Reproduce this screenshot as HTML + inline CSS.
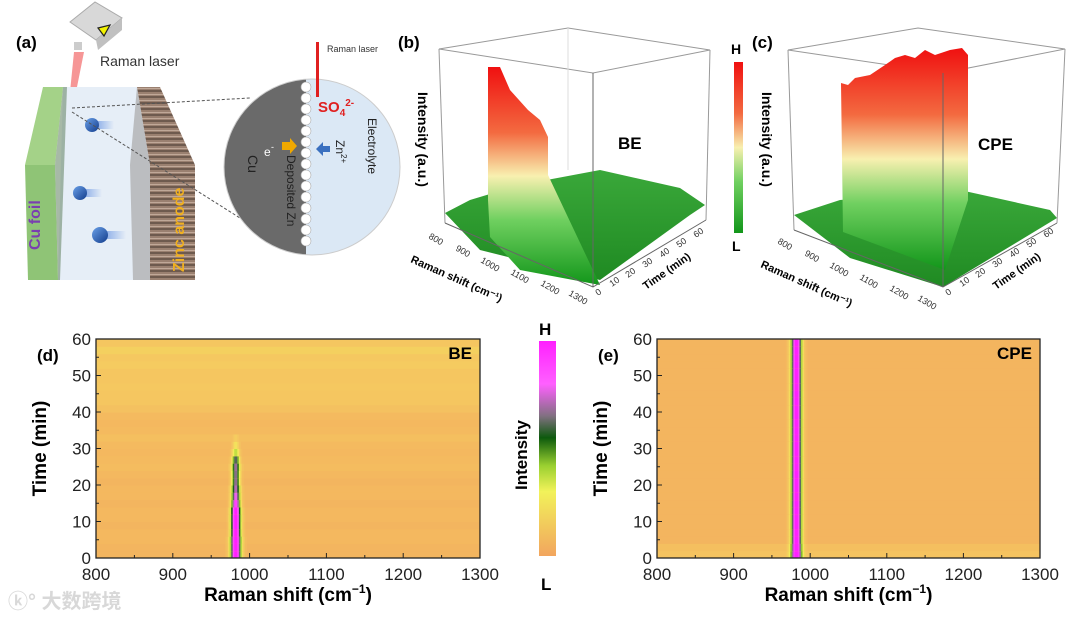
<!DOCTYPE html>
<html><head><meta charset="utf-8"><style>
html,body{margin:0;padding:0;background:#fff;}
svg{display:block;font-family:"Liberation Sans","Noto Sans CJK SC",sans-serif;}
</style></head><body>
<svg id="fig" width="1080" height="619" viewBox="0 0 1080 619">
<defs>
<linearGradient id="redgreen" x1="0" y1="0" x2="0" y2="1">
<stop offset="0" stop-color="#f01010"/><stop offset="0.3" stop-color="#f36a40"/><stop offset="0.5" stop-color="#f8f0b0"/><stop offset="0.7" stop-color="#70d060"/><stop offset="1" stop-color="#12961a"/></linearGradient>
<linearGradient id="floorg" x1="0" y1="0" x2="0" y2="1"><stop offset="0" stop-color="#3aa83a"/><stop offset="1" stop-color="#1f8a22"/></linearGradient>
<linearGradient id="hmbar" x1="0" y1="1" x2="0" y2="0">
<stop offset="0" stop-color="#f2a55e"/><stop offset="0.3" stop-color="#f2f25a"/><stop offset="0.42" stop-color="#9ad030"/><stop offset="0.55" stop-color="#0d5a0d"/><stop offset="0.65" stop-color="#807080"/><stop offset="0.8" stop-color="#ff60ff"/><stop offset="1" stop-color="#ff20ff"/></linearGradient>
<pattern id="zinc" width="4" height="6" patternUnits="userSpaceOnUse"><rect width="4" height="6" fill="#9a8070"/><rect y="0" width="4" height="2" fill="#6e5a4e"/><rect y="4" width="4" height="1" fill="#c0a898"/></pattern>
<linearGradient id="ball" x1="0" y1="0" x2="1" y2="1"><stop offset="0" stop-color="#6aa0e8"/><stop offset="1" stop-color="#123c8c"/></linearGradient>
<linearGradient id="tail" x1="0" y1="0" x2="1" y2="0"><stop offset="0" stop-color="#5a8ae0" stop-opacity="0.8"/><stop offset="1" stop-color="#5a8ae0" stop-opacity="0"/></linearGradient>
</defs>

<g>
<text x="16" y="48" font-size="17" font-weight="bold">(a)</text>
<g>
<polygon points="70,22 95,2 122,18 96,40" fill="#d8d8d8" stroke="#aaa"/>
<polygon points="96,40 122,18 122,30 98,50" fill="#c0c0c0"/>
<polygon points="98,28 110,25 104,36" fill="#f2f200" stroke="#222" stroke-width="1.2"/>
<rect x="74" y="42" width="8" height="8" fill="#ccc"/>
<polygon points="74,52 84,52 76,92 70,92" fill="#f05050" opacity="0.6"/>
</g>
<text x="100" y="66" font-size="14" fill="#333">Raman laser</text>
<polygon points="63,87 150,87 150,280 58,280" fill="#e6eef7"/>
<polygon points="43,87 63,87 55,165 25,165" fill="#a4d288"/>
<polygon points="25,165 55,165 58,280 28,280" fill="#8fc476"/>
<polygon points="55,165 63,87 67,87 60,280 58,280" fill="#6c8a6c" opacity="0.6"/>
<polygon points="137,87 160,87 195,165 195,280 150,280 150,165" fill="url(#zinc)"/>
<polygon points="137,87 150,165 150,280 133,280 130,165" fill="#a8a8a8" opacity="0.7"/>
<g>
<rect x="92" y="121" width="22" height="8" fill="url(#tail)"/><circle cx="92" cy="125" r="7" fill="url(#ball)"/>
<rect x="80" y="189" width="22" height="8" fill="url(#tail)"/><circle cx="80" cy="193" r="7" fill="url(#ball)"/>
<rect x="100" y="231" width="26" height="8" fill="url(#tail)"/><circle cx="100" cy="235" r="8" fill="url(#ball)"/>
</g>
<line x1="72" y1="108" x2="250" y2="98" stroke="#555" stroke-dasharray="3,2"/>
<line x1="72" y1="112" x2="240" y2="218" stroke="#555" stroke-dasharray="3,2"/>
<text transform="translate(40,250) rotate(-90)" font-size="16" font-weight="bold" fill="#7a3fb0">Cu foil</text>
<text transform="translate(184,272) rotate(-90)" font-size="16" font-weight="bold" fill="#f0b020">Zinc anode</text>
<g>
<clipPath id="cc"><circle cx="312" cy="167" r="88"/></clipPath>
<g clip-path="url(#cc)">
<rect x="224" y="79" width="88" height="176" fill="#6a6a6a"/>
<rect x="306" y="79" width="96" height="176" fill="#dbe8f5"/>
</g>
<circle cx="312" cy="167" r="88" fill="none" stroke="#ccc"/>
<g fill="#fff" stroke="#aaa" stroke-width="0.6">
<circle cx="306" cy="87" r="5"/><circle cx="306" cy="98" r="5"/><circle cx="306" cy="109" r="5"/><circle cx="306" cy="120" r="5"/><circle cx="306" cy="131" r="5"/><circle cx="306" cy="142" r="5"/><circle cx="306" cy="153" r="5"/><circle cx="306" cy="164" r="5"/><circle cx="306" cy="175" r="5"/><circle cx="306" cy="186" r="5"/><circle cx="306" cy="197" r="5"/><circle cx="306" cy="208" r="5"/><circle cx="306" cy="219" r="5"/><circle cx="306" cy="230" r="5"/><circle cx="306" cy="241" r="5"/></g>
<rect x="316" y="42" width="3" height="55" fill="#e02020"/>
<text x="327" y="52" font-size="9" fill="#333">Raman laser</text>
<text x="318" y="112" font-size="15" fill="#e02020" font-weight="bold">SO<tspan font-size="10" dy="4">4</tspan><tspan font-size="10" dy="-10">2-</tspan></text>
<polygon points="282,142 290,142 290,138 297,146 290,154 290,150 282,150" fill="#f0a800"/>
<polygon points="330,146 323,146 323,142 316,149 323,156 323,152 330,152" fill="#3a70c0"/>
<text x="264" y="156" font-size="12" fill="#fff">e</text><text x="271" y="150" font-size="9" fill="#fff">-</text>
<text transform="translate(248,155) rotate(90)" font-size="14" fill="#222">Cu</text>
<text transform="translate(287,155) rotate(90)" font-size="12" fill="#222">Deposited Zn</text>
<text transform="translate(336,140) rotate(90)" font-size="12" fill="#222">Zn<tspan font-size="8" dy="-5">2+</tspan></text>
<text transform="translate(368,118) rotate(90)" font-size="12" fill="#222">Electrolyte</text>
</g>
</g>

<g>
<text x="398" y="48" font-size="17" font-weight="bold">(b)</text>
<polygon points="439,49 568,28 710,50 593,73" fill="none" stroke="#999"/>
<line x1="439" y1="49" x2="445" y2="223" stroke="#999"/><line x1="568" y1="28" x2="568" y2="170" stroke="#ddd"/><line x1="710" y1="50" x2="706" y2="220" stroke="#999"/>
<polygon points="445,213 470,200 520,185 600,170 680,188 705,205 690,215 600,280 480,250" fill="url(#floorg)"/>
<polygon points="488,67 500,67 510,90 528,110 540,120 548,137 548,175 600,285 520,270 490,237 488,200" fill="url(#redgreen)"/>
<line x1="593" y1="73" x2="593" y2="287" stroke="#666"/>
<polyline points="445,223 593,287 706,220" fill="none" stroke="#666"/>
<text transform="translate(418,92) rotate(90)" font-size="14" font-weight="bold">Intensity (a.u.)</text>
<text x="618" y="149" font-size="17" font-weight="bold">BE</text>
<g font-size="9" fill="#333">
<text transform="translate(428,238) rotate(30)">800</text><text transform="translate(455,250) rotate(30)">900</text><text transform="translate(480,262) rotate(30)">1000</text><text transform="translate(510,274) rotate(30)">1100</text><text transform="translate(540,285) rotate(30)">1200</text><text transform="translate(568,295) rotate(30)">1300</text>
<text transform="translate(598,296) rotate(-35)">0</text><text transform="translate(612,287) rotate(-35)">10</text><text transform="translate(628,278) rotate(-35)">20</text><text transform="translate(645,268) rotate(-35)">30</text><text transform="translate(662,258) rotate(-35)">40</text><text transform="translate(679,248) rotate(-35)">50</text><text transform="translate(696,238) rotate(-35)">60</text>
</g>
<text transform="translate(410,262) rotate(24)" font-size="11" font-weight="bold">Raman shift (cm⁻¹)</text>
<text transform="translate(646,290) rotate(-35)" font-size="11" font-weight="bold">Time (min)</text>
</g>
<g>
<rect x="734" y="62" width="9" height="171" fill="url(#redgreen)"/>
<text x="731" y="54" font-size="14" font-weight="bold">H</text>
<text x="732" y="251" font-size="14" font-weight="bold">L</text>
</g>
<g>
<text x="752" y="48" font-size="17" font-weight="bold">(c)</text>
<polygon points="788,50 918,28 1065,49 943,73" fill="none" stroke="#999"/>
<line x1="788" y1="50" x2="794" y2="230" stroke="#999"/><line x1="1065" y1="49" x2="1057" y2="223" stroke="#999"/>
<polygon points="794,215 840,200 960,190 1050,210 1057,218 943,287 850,258" fill="url(#floorg)"/>
<polygon points="841,83 848,85 855,78 870,75 885,65 895,58 905,55 915,58 925,50 935,55 950,50 962,48 968,55 968,200 945,270 843,232" fill="url(#redgreen)"/>
<line x1="943" y1="73" x2="943" y2="287" stroke="#666"/>
<polyline points="794,230 943,287 1057,223" fill="none" stroke="#666"/>
<text transform="translate(762,92) rotate(90)" font-size="14" font-weight="bold">Intensity (a.u.)</text>
<text x="978" y="150" font-size="17" font-weight="bold">CPE</text>
<g font-size="9" fill="#333">
<text transform="translate(777,243) rotate(30)">800</text><text transform="translate(804,255) rotate(30)">900</text><text transform="translate(829,267) rotate(30)">1000</text><text transform="translate(859,279) rotate(30)">1100</text><text transform="translate(889,290) rotate(30)">1200</text><text transform="translate(917,300) rotate(30)">1300</text>
<text transform="translate(948,296) rotate(-35)">0</text><text transform="translate(962,287) rotate(-35)">10</text><text transform="translate(978,278) rotate(-35)">20</text><text transform="translate(995,268) rotate(-35)">30</text><text transform="translate(1012,258) rotate(-35)">40</text><text transform="translate(1029,248) rotate(-35)">50</text><text transform="translate(1046,238) rotate(-35)">60</text>
</g>
<text transform="translate(760,267) rotate(24)" font-size="11" font-weight="bold">Raman shift (cm⁻¹)</text>
<text transform="translate(996,290) rotate(-35)" font-size="11" font-weight="bold">Time (min)</text>
</g>

<g>
<rect x="539" y="341" width="17" height="215" fill="url(#hmbar)"/>
<text x="539" y="335" font-size="17" font-weight="bold">H</text>
<text x="541" y="590" font-size="17" font-weight="bold">L</text>
<text transform="translate(527,490) rotate(-90)" font-size="17" font-weight="bold">Intensity</text>
</g>
<text x="8" y="608" font-size="20" fill="#d8d8d8" font-weight="bold">ⓚ° 大数跨境</text>
<g id="hmD"></g>
<g id="hmE"></g>
</svg>
<script>
const times = [0,2,4,6,8,10,12,14,16,18,20,22,24,26,28,30,32,34,36,38,40,42,44,46,48,50,52,54,56,58];
const shiftStart = 800, shiftEnd = 1300, shiftStep = 2;
const peakCenter = 982;
const beAmp  = [1,1,1,1,1,1,0.95,0.85,0.72,0.65,0.62,0.6,0.6,0.55,0.3,0.16,0.06,0,0,0,0,0,0,0,0,0,0,0,0,0];
const beWidth= [6.5,6.5,6.5,6,6,6,6,5.5,5.5,5.5,5,5,5,4.5,4.5,4,3.5,3,3,3,3,3,3,3,3,3,3,3,3,3];
const beBg   = [0.07,0.07,0.08,0.08,0.07,0.08,0.08,0.07,0.08,0.08,0.07,0.08,0.1,0.09,0.08,0.09,0.11,0.09,0.08,0.09,0.12,0.14,0.14,0.15,0.14,0.14,0.16,0.15,0.18,0.14];
const cpeAmp = [1,1,1,1,1,1,1,1,1,1,1,1,1,1,1,1,1,1,1,1,1,1,1,1,1,1,1,1,1,1];
const cpeBg  = [0.13,0.11,0.07,0.07,0.07,0.07,0.07,0.07,0.07,0.07,0.07,0.07,0.07,0.07,0.07,0.07,0.07,0.07,0.07,0.07,0.07,0.07,0.07,0.07,0.07,0.07,0.07,0.07,0.07,0.07];
const xTicks = [800,900,1000,1100,1200,1300];
const yTicks = [0,10,20,30,40,50,60];
const NS='http://www.w3.org/2000/svg';
const stops=[[0,[242,165,94]],[0.15,[245,200,96]],[0.3,[242,242,90]],[0.42,[154,208,48]],[0.55,[13,90,13]],[0.65,[128,112,128]],[0.8,[255,96,255]],[1,[255,32,255]]];
function cmap(v){v=Math.max(0,Math.min(1,v));for(let i=1;i<stops.length;i++){if(v<=stops[i][0]){const a=stops[i-1],b=stops[i],t=(v-a[0])/(b[0]-a[0]);return 'rgb('+a[1].map((c,k)=>Math.round(c+(b[1][k]-c)*t)).join(',')+')';}}return 'rgb(255,32,255)';}
function mk(tag,at,parent){const e=document.createElementNS(NS,tag);for(const k in at)e.setAttribute(k,at[k]);parent.appendChild(e);return e;}
function panel(g,x0,x1,y0,y1,amp,wid,bg,label,tag,constW){
  const sx=v=>x0+(v-shiftStart)/(shiftEnd-shiftStart)*(x1-x0);
  const sy=t=>y1-(t/60)*(y1-y0);
  times.forEach((t,i)=>{
    const row=mk('rect',{x:x0,y:sy(t+2).toFixed(2),width:x1-x0,height:(sy(t)-sy(t+2)+0.5).toFixed(2),fill:cmap(bg[i])},g);
    
    
    for(let s=shiftStart;s<shiftEnd;s+=shiftStep){
      const d=s+shiftStep/2-peakCenter;const w=constW?constW:wid[i];
      const p=amp[i]*Math.exp(-(d*d)/(w*w));
      if(p<0.01)continue;
      const r=mk('rect',{x:sx(s).toFixed(2),y:sy(t+2).toFixed(2),width:(sx(s+shiftStep)-sx(s)+0.4).toFixed(2),height:(sy(t)-sy(t+2)+0.5).toFixed(2),fill:cmap(bg[i]+p)},g);
      
      
    }
  });
  const f=mk('rect',{x:x0,y:y0,width:x1-x0,height:y1-y0,fill:'none',stroke:'#222','stroke-width':1.3},g);
  
  
  xTicks.forEach(v=>{mk('line',{x1:sx(v),x2:sx(v),y1:y1,y2:y1-5,stroke:'#222'},g);
    const tx=mk('text',{x:sx(v),y:y1+22,'font-size':17,'text-anchor':'middle',fill:'#222'},g);tx.textContent=v;
    
    
    if(v<1300)mk('line',{x1:sx(v+50),x2:sx(v+50),y1:y1,y2:y1-3,stroke:'#222'},g);});
  yTicks.forEach(v=>{mk('line',{x1:x0,x2:x0+5,y1:sy(v),y2:sy(v),stroke:'#222'},g);
    const ty=mk('text',{x:x0-5,y:sy(v)+6,'font-size':17,'text-anchor':'end',fill:'#222'},g);ty.textContent=v;
    
    
    if(v<60)mk('line',{x1:x0,x2:x0+3,y1:sy(v+5),y2:sy(v+5),stroke:'#222'},g);});
  const xt=mk('text',{x:(x0+x1)/2,y:y1+43,'font-size':19,'font-weight':'bold','text-anchor':'middle'},g);
  xt.innerHTML='Raman shift (cm<tspan font-size="12" dy="-8">−1</tspan><tspan dy="8">)</tspan>';
  
  
  const yt=mk('text',{transform:`translate(${x0-50},${(y0+y1)/2}) rotate(-90)`,'font-size':19,'font-weight':'bold','text-anchor':'middle'},g);
  yt.textContent='Time (min)';
  
  
  const pl=mk('text',{x:x0-59,y:y0+22,'font-size':17,'font-weight':'bold'},g);pl.textContent=label;
  
  
  const tg=mk('text',{x:x1-8,y:y0+20,'font-size':17,'font-weight':'bold','text-anchor':'end'},g);tg.textContent=tag;
  
  
}
panel(document.getElementById('hmD'),96,480,339,558,beAmp,beWidth,beBg,'(d)','BE',0);
panel(document.getElementById('hmE'),657,1040,339,558,cpeAmp,null,cpeBg,'(e)','CPE',6.5);
</script>
</body></html>
